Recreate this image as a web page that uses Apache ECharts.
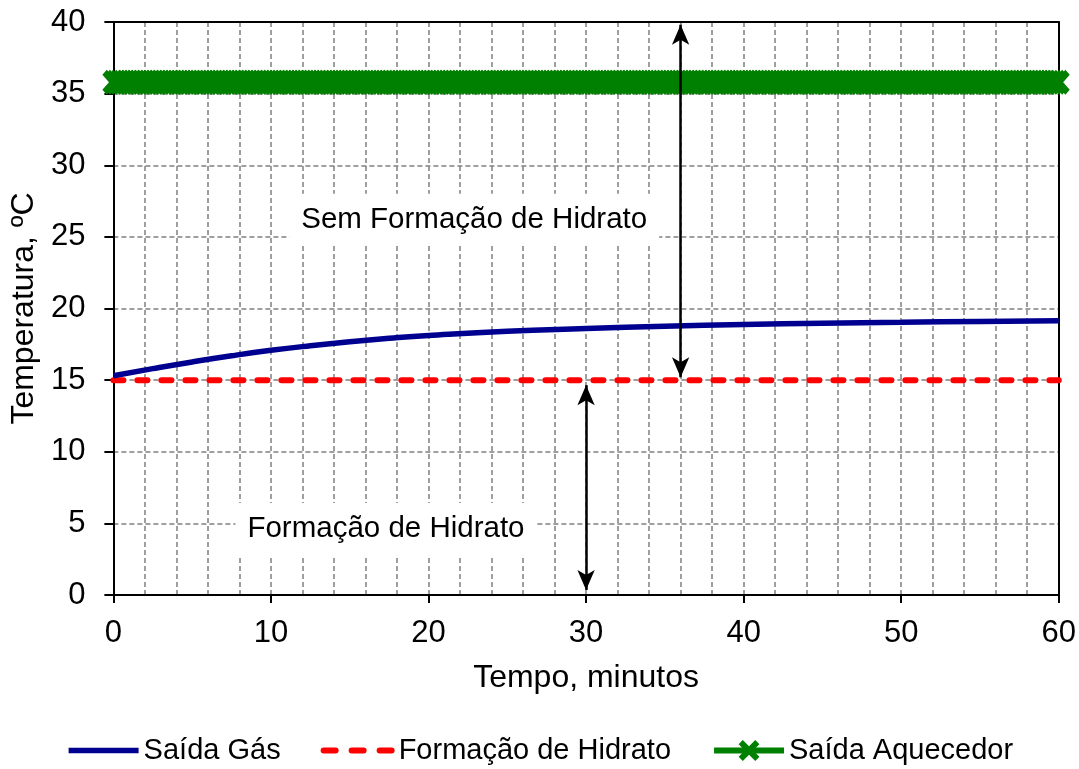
<!DOCTYPE html>
<html>
<head>
<meta charset="utf-8">
<script src="https://cdn.jsdelivr.net/npm/echarts@6/dist/echarts.min.js"></script>
<style>
html,body{margin:0;padding:0;background:#fff;}
#chart{width:1079px;height:769px;}
</style>
</head>
<body>
<div id="chart"></div>
<script>
// ---- data ----
const xTicks = [0, 10, 20, 30, 40, 50, 60];
const yTicks = [0, 5, 10, 15, 20, 25, 30, 35, 40];

const gasTime = [0, 2.5, 5, 7.5, 10, 12.5, 15, 17.5, 20, 25, 30, 35, 40, 45, 50, 55, 60];
const gasTemp = [15.3, 15.8, 16.27, 16.7, 17.08, 17.4, 17.68, 17.92, 18.12, 18.42, 18.6, 18.76, 18.88, 18.97, 19.04, 19.1, 19.14];

const hidratoTime = [0, 60];
const hidratoTemp = [15, 15];

// heater outlet: constant temperature, sampled densely (markers overlap into a band)
const aquecedorTemp = 35.8;
const aquecedorStep = 0.2;
const aquecedorStart = 0;
const aquecedorEnd = 60;

const arrowUpper = [[36, 15.2], [36, 39.8]];
const arrowLower = [[30, 14.65], [30, 0.35]];
const labelUpper = { text: 'Sem Formação de Hidrato', coord: [22.9, 26.2] };
const labelLower = { text: 'Formação de Hidrato', coord: [17.3, 4.6] };

// ---- build series data ----
const gasData = gasTime.map((t, i) => [t, gasTemp[i]]);
const hidratoData = hidratoTime.map((t, i) => [t, hidratoTemp[i]]);
const aquecedorData = [];
for (let k = 0; aquecedorStart + k * aquecedorStep <= aquecedorEnd + 1e-9; k++) {
  aquecedorData.push([+(aquecedorStart + k * aquecedorStep).toFixed(2), aquecedorTemp]);
}

const FONT = 'Liberation Sans, Arial, sans-serif';
const xShape = 'path://M0,2 L2,0 L5,3 L8,0 L10,2 L7,5 L10,8 L8,10 L5,7 L2,10 L0,8 L3,5 Z';
const gridLine = { show: true, lineStyle: { color: '#808080', type: [5, 3], width: 1.5 } };
const frameAxis = {
  axisLine: { show: true, onZero: false, lineStyle: { color: '#000', width: 2 } },
  axisTick: { show: false }, axisLabel: { show: false }, splitLine: { show: false }
};

const chart = echarts.init(document.getElementById('chart'), null, { renderer: 'canvas' });
chart.setOption({
  backgroundColor: '#fff',
  animation: false,
  grid: { left: 113, right: 20, top: 22, bottom: 174 },
  xAxis: [{
    type: 'value', min: xTicks[0], max: xTicks[xTicks.length - 1], interval: 10,
    name: 'Tempo, minutos', nameLocation: 'middle', nameGap: 67,
    nameTextStyle: { fontFamily: FONT, fontSize: 32, color: '#000' },
    axisLine: { show: true, onZero: false, lineStyle: { color: '#000', width: 2 } },
    axisTick: { show: true, length: 8, lineStyle: { color: '#000', width: 2 } },
    axisLabel: { margin: 23, fontFamily: FONT, fontSize: 31, color: '#000' },
    splitLine: gridLine,
    minorTick: { show: false, splitNumber: 5 },
    minorSplitLine: gridLine
  }, Object.assign({ type: 'value', position: 'top', min: 0, max: 60 }, frameAxis)],
  yAxis: [{
    type: 'value', min: yTicks[0], max: yTicks[yTicks.length - 1], interval: 5,
    name: 'Temperatura, ºC', nameLocation: 'middle', nameGap: 70, nameRotate: 90,
    nameTextStyle: { fontFamily: FONT, fontSize: 32, color: '#000' },
    axisLine: { show: true, lineStyle: { color: '#000', width: 2 } },
    axisTick: { show: true, length: 9, lineStyle: { color: '#000', width: 2 } },
    axisLabel: { margin: 28, fontFamily: FONT, fontSize: 31, color: '#000' },
    splitLine: gridLine
  }, Object.assign({ type: 'value', position: 'right', min: 0, max: 40 }, frameAxis)],
  legend: {
    top: 731, left: 'center', itemWidth: 70, itemHeight: 26, itemGap: 40,
    textStyle: { fontFamily: FONT, fontSize: 29, color: '#000' },
    data: [
      { name: 'Saída Gás', itemStyle: { opacity: 0 }, lineStyle: { width: 5.5 } },
      { name: 'Formação de Hidrato', itemStyle: { opacity: 0 }, lineStyle: { width: 6, type: [12, 16], cap: 'round' } },
      { name: 'Saída Aquecedor', lineStyle: { width: 6 } }
    ]
  },
  series: [
    {
      name: 'Saída Gás', type: 'line', data: gasData, smooth: true, showSymbol: false, symbol: 'none',
      lineStyle: { color: '#000090', width: 5.5 }, itemStyle: { color: '#000090' }, z: 4
    },
    {
      name: 'Formação de Hidrato', type: 'line', data: hidratoData, showSymbol: false, symbol: 'none',
      lineStyle: { color: '#ff0000', width: 6, type: [10, 14], cap: 'round' }, itemStyle: { color: '#ff0000' }, z: 3
    },
    {
      name: 'Saída Aquecedor', type: 'line', data: aquecedorData, symbol: xShape, symbolSize: [22, 25],
      showAllSymbol: true,
      lineStyle: { color: '#008000', width: 5 }, itemStyle: { color: '#008000' }, z: 3,
      markLine: {
        silent: true, symbol: ['arrow', 'arrow'], symbolSize: [13, 20],
        label: { show: false },
        lineStyle: { color: '#000', width: 2.5, type: 'solid' },
        data: [
          [{ coord: arrowUpper[0] }, { coord: arrowUpper[1] }],
          [{ coord: arrowLower[0] }, { coord: arrowLower[1] }]
        ]
      },
      markPoint: {
        silent: true, symbol: 'rect', symbolSize: 1, itemStyle: { color: 'rgba(0,0,0,0)' },
        label: {
          show: true, position: 'inside', fontFamily: FONT, fontSize: 29.5, color: '#000',
          backgroundColor: '#fff', padding: [11, 12], formatter: p => p.name
        },
        data: [
          { name: labelUpper.text, coord: labelUpper.coord },
          { name: labelLower.text, coord: labelLower.coord }
        ]
      }
    }
  ]
});
</script>
</body>
</html>
